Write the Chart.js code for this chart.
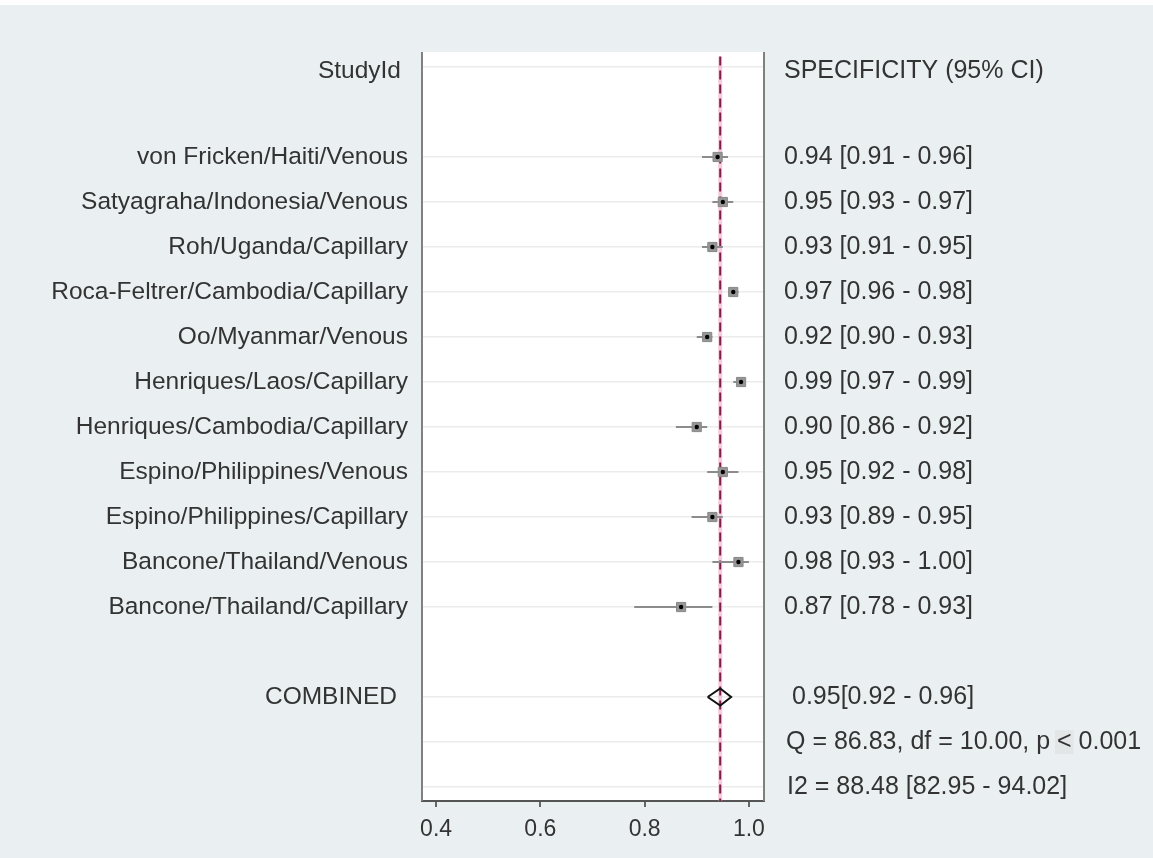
<!DOCTYPE html>
<html>
<head>
<meta charset="utf-8">
<script src="https://cdn.jsdelivr.net/npm/chart.js@4.4.1/dist/chart.umd.min.js"></script>
<style>
  html, body { margin: 0; padding: 0; background: #eaf0f2; overflow: hidden; }
  canvas { display: block; }
</style>
</head>
<body>
<canvas id="forest" width="1153" height="858"></canvas>
<script>
// study rows (top to bottom)
const studies = [
  'von Fricken/Haiti/Venous',
  'Satyagraha/Indonesia/Venous',
  'Roh/Uganda/Capillary',
  'Roca-Feltrer/Cambodia/Capillary',
  'Oo/Myanmar/Venous',
  'Henriques/Laos/Capillary',
  'Henriques/Cambodia/Capillary',
  'Espino/Philippines/Venous',
  'Espino/Philippines/Capillary',
  'Bancone/Thailand/Venous',
  'Bancone/Thailand/Capillary',
];
const spec = [0.94, 0.95, 0.93, 0.97, 0.92, 0.985, 0.90, 0.95, 0.93, 0.98, 0.87];
const lo   = [0.91, 0.93, 0.91, 0.96, 0.90, 0.97, 0.86, 0.92, 0.89, 0.93, 0.78];
const hi   = [0.96, 0.97, 0.95, 0.98, 0.93, 0.99, 0.92, 0.98, 0.95, 1.00, 0.93];
const ciText = [
  '0.94 [0.91 - 0.96]', '0.95 [0.93 - 0.97]', '0.93 [0.91 - 0.95]', '0.97 [0.96 - 0.98]',
  '0.92 [0.90 - 0.93]', '0.99 [0.97 - 0.99]', '0.90 [0.86 - 0.92]', '0.95 [0.92 - 0.98]',
  '0.93 [0.89 - 0.95]', '0.98 [0.93 - 1.00]', '0.87 [0.78 - 0.93]',
];
const pooled = { est: 0.945, lo: 0.921, hi: 0.966 };
const pooledText = '0.95[0.92 - 0.96]';
const hetQ = ['Q = 86.83, df = 10.00, p ', '<', ' 0.001'];
const hetI2 = 'I2 = 88.48 [82.95 - 94.02]';
const xTicks = [0.4, 0.6, 0.8, 1.0];

// row slots: 0 header, 2..12 studies, 14 combined, 15 Q, 16 I2
const studyRow = studies.map((_, i) => i + 2);
const combinedRow = 14;
const gridRows = [0, ...studyRow, 14, 15, 16];
const Y_MIN = -0.333, Y_MAX = 16.31;

const FONT = '"Liberation Sans", Arial, sans-serif';
const TEXT = '#333333';

const bgPlugin = {
  id: 'bg',
  beforeDraw(chart) {
    const { ctx, chartArea: a } = chart;
    ctx.save();
    ctx.fillStyle = '#eaf0f2';
    ctx.fillRect(0, 0, chart.width, chart.height);
    ctx.fillStyle = '#ffffff';
    ctx.fillRect(0, 0, chart.width, 5);
    ctx.fillRect(a.left, a.top, a.right - a.left, a.bottom - a.top);
    ctx.restore();
  },
  afterDatasetsDraw(chart) {
    const { ctx, chartArea: a } = chart;
    ctx.save();
    ctx.strokeStyle = '#808080';
    ctx.lineWidth = 2;
    ctx.beginPath();
    ctx.moveTo(a.left, a.top); ctx.lineTo(a.left, a.bottom);
    ctx.moveTo(a.right, a.top); ctx.lineTo(a.right, a.bottom);
    ctx.stroke();
    ctx.restore();
  },
};

const textPlugin = {
  id: 'rowText',
  afterDraw(chart) {
    const { ctx } = chart;
    const y = chart.scales.y;
    ctx.save();
    ctx.fillStyle = TEXT;
    ctx.textBaseline = 'middle';

    ctx.font = `24.5px ${FONT}`;
    ctx.textAlign = 'right';
    ctx.fillText('StudyId', 401, y.getPixelForValue(0) + 4);
    studies.forEach((s, i) => ctx.fillText(s, 408, y.getPixelForValue(studyRow[i])));
    ctx.fillText('COMBINED', 397, y.getPixelForValue(combinedRow));

    ctx.font = `25px ${FONT}`;
    ctx.textAlign = 'left';
    ctx.fillText('SPECIFICITY (95% CI)', 784, y.getPixelForValue(0) + 4);
    ciText.forEach((s, i) => ctx.fillText(s, 784, y.getPixelForValue(studyRow[i])));
    ctx.fillText(pooledText, 792, y.getPixelForValue(combinedRow));

    // heterogeneity line, with the faint box behind "<"
    const qy = y.getPixelForValue(15);
    const qx = 786;
    const w0 = ctx.measureText(hetQ[0]).width;
    const w1 = ctx.measureText(hetQ[1]).width;
    ctx.fillStyle = '#e3e6e7';
    ctx.fillRect(qx + w0 - 2, qy - 12, w1 + 4, 24);
    ctx.fillStyle = TEXT;
    ctx.fillText(hetQ.join(''), qx, qy);
    ctx.fillText(hetI2, 787, y.getPixelForValue(16));
    ctx.restore();
  },
};

const ciSets = studies.map((s, i) => ({
  label: s,
  data: [{ x: lo[i], y: studyRow[i] }, { x: hi[i], y: studyRow[i] }],
  showLine: true,
  borderColor: '#8c8c8c',
  borderWidth: 2,
  pointRadius: 0,
  order: 3,
}));

new Chart(document.getElementById('forest'), {
  type: 'scatter',
  data: {
    datasets: [
      {
        label: 'centre',
        data: spec.map((v, i) => ({ x: v, y: studyRow[i] })),
        pointStyle: 'circle',
        pointRadius: 2.2,
        backgroundColor: '#000000',
        borderWidth: 0,
        order: 1,
      },
      {
        label: 'weight',
        data: spec.map((v, i) => ({ x: v, y: studyRow[i] })),
        pointStyle: 'rect',
        pointRadius: 6.5,
        backgroundColor: '#969696',
        borderColor: '#888888',
        borderWidth: 1,
        order: 2,
      },
      ...ciSets,
      {
        label: 'combined',
        data: [
          { x: pooled.lo, y: combinedRow },
          { x: pooled.est, y: combinedRow - 0.19 },
          { x: pooled.hi, y: combinedRow },
          { x: pooled.est, y: combinedRow + 0.19 },
          { x: pooled.lo, y: combinedRow },
        ],
        showLine: true,
        borderColor: '#111111',
        borderWidth: 2,
        pointRadius: 0,
        order: 4,
      },
      {
        label: 'pooled line',
        data: [{ x: pooled.est, y: Y_MIN + 0.1 }, { x: pooled.est, y: Y_MAX }],
        showLine: true,
        borderColor: '#7e1f4a',
        borderWidth: 2,
        borderDash: [9, 5],
        pointRadius: 0,
        order: 5,
      },
      {
        label: 'pooled halo',
        data: [{ x: pooled.est, y: Y_MIN + 0.1 }, { x: pooled.est, y: Y_MAX }],
        showLine: true,
        borderColor: 'rgba(240,160,195,0.55)',
        borderWidth: 4,
        pointRadius: 0,
        order: 6,
      },
    ],
  },
  options: {
    responsive: false,
    animation: false,
    devicePixelRatio: 1,
    layout: { padding: { left: 422, right: 389, top: 52, bottom: 0 } },
    plugins: { legend: { display: false }, tooltip: { enabled: false } },
    scales: {
      x: {
        type: 'linear',
        min: 0.373,
        max: 1.029,
        afterBuildTicks: (s) => { s.ticks = xTicks.map((v) => ({ value: v })); },
        afterFit: (s) => { s.height = 57; },
        ticks: {
          font: { family: FONT, size: 23 },
          color: TEXT,
          padding: 9,
          callback: (v) => Number(v).toFixed(1),
        },
        grid: { drawOnChartArea: false, drawTicks: true, tickLength: 6, color: '#666666', lineWidth: 2 },
        border: { display: true, color: '#555555', width: 2 },
      },
      y: {
        type: 'linear',
        reverse: true,
        min: Y_MIN,
        max: Y_MAX,
        afterBuildTicks: (s) => { s.ticks = gridRows.map((v) => ({ value: v })); },
        afterFit: (s) => { s.width = 0; },
        ticks: { display: false },
        grid: { color: '#ececec', lineWidth: 1.5, drawTicks: false },
        border: { display: false },
      },
    },
  },
  plugins: [bgPlugin, textPlugin],
});
</script>
</body>
</html>
